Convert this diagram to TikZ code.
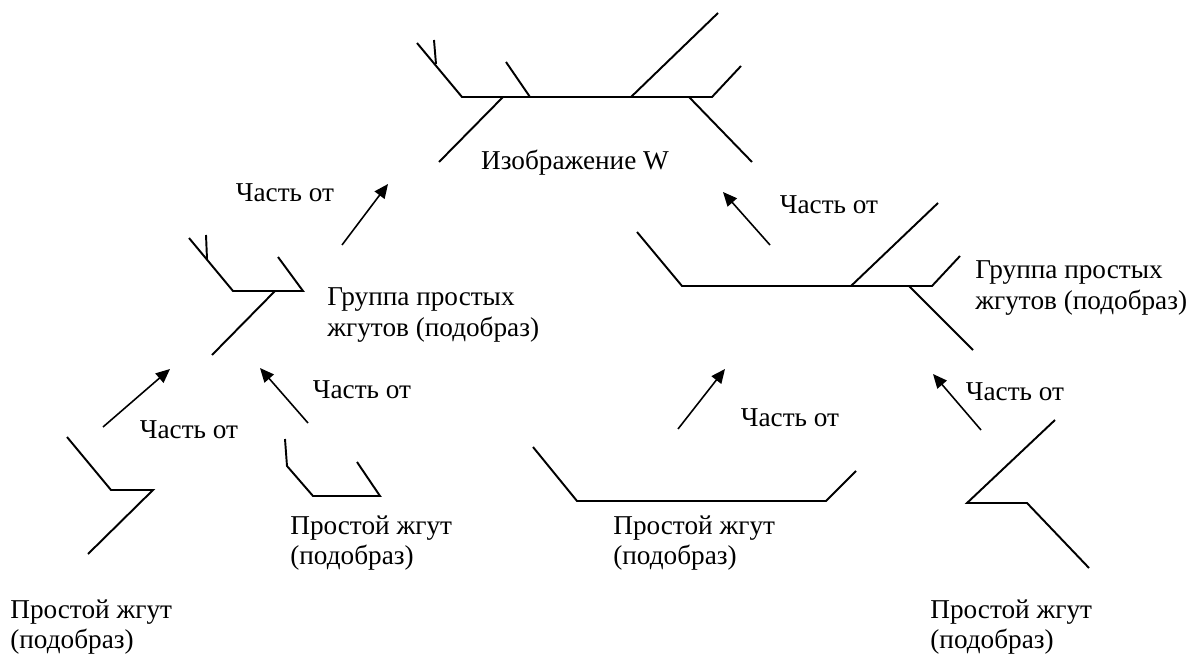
\documentclass[tikz,border=0pt]{standalone}
\usepackage{fontspec}
\setmainfont{Liberation Serif}
\usetikzlibrary{arrows.meta}
\tikzset{
  strand/.style={line width=1.1pt, line join=miter},
  partof/.style={line width=0.9pt, -{Triangle[length=8pt,width=7pt]}},
  caption/.style={font=\fontsize{15.5}{17.5}\selectfont, inner sep=0pt, align=left},
}

\begin{document}
\begin{tikzpicture}[x=0.02cm, y=-0.02cm]
  \useasboundingbox (0,0) rectangle (1197,655);

  % image W
  \draw[strand] (417,43) -- (462,97) -- (712,97) -- (741,66);
  \draw[strand] (436,64) -- (434,40);
  \draw[strand] (503,97) -- (439,162);
  \draw[strand] (530,97) -- (506,62);
  \draw[strand] (631,97) -- (718,13);
  \draw[strand] (689,97) -- (752,162);
  \node[caption, anchor=center] (imgW) at (575,163) {Изображение W};

  % left group
  \draw[strand] (189,238) -- (233,291) -- (303,291) -- (278,257);
  \draw[strand] (207,259) -- (206,235);
  \draw[strand] (275,291) -- (212,355);
  \node[caption, anchor=west] (groupL) at (327,315) {Группа простых\\жгутов (подобраз)};

  % right group
  \draw[strand] (637,232) -- (682,286) -- (932,286) -- (960,256);
  \draw[strand] (851,286) -- (938,203);
  \draw[strand] (909,286) -- (973,350);
  \node[caption, anchor=west] (groupR) at (975,288) {Группа простых\\жгутов (подобраз)};

  % simple strands
  \draw[strand] (67,437) -- (111,490) -- (153,490) -- (88,554);
  \node[caption, anchor=west] (simpleA) at (10,627) {Простой жгут\\(подобраз)};
  \draw[strand] (285,439) -- (287,466) -- (313,496) -- (380,496) -- (357,462);
  \node[caption, anchor=west] (simpleB) at (290,543) {Простой жгут\\(подобраз)};
  \draw[strand] (533,447) -- (577,501) -- (826,501) -- (856,471);
  \node[caption, anchor=west] (simpleC) at (613,543) {Простой жгут\\(подобраз)};
  \draw[strand] (1055,420) -- (967,503) -- (1027,503) -- (1089,568);
  \node[caption, anchor=west] (simpleD) at (930,627) {Простой жгут\\(подобраз)};

  % part-of arrows
  \coordinate (upL0) at (342,245);
  \coordinate (upL1) at (388,184);
  \coordinate (upR0) at (770,245);
  \coordinate (upR1) at (723,192);
  \coordinate (inA0) at (103,427);
  \coordinate (inA1) at (170,369);
  \coordinate (inB0) at (308,423);
  \coordinate (inB1) at (260,368);
  \coordinate (inC0) at (678,429);
  \coordinate (inC1) at (725,369);
  \coordinate (inD0) at (981,430);
  \coordinate (inD1) at (933,374);
  \draw[partof] (upL0) -- (upL1);
  \draw[partof] (upR0) -- (upR1);
  \draw[partof] (inA0) -- (inA1);
  \draw[partof] (inB0) -- (inB1);
  \draw[partof] (inC0) -- (inC1);
  \draw[partof] (inD0) -- (inD1);
  \node[caption] (partUpL) at (285,193) {Часть от};
  \node[caption] (partUpR) at (829,205) {Часть от};
  \node[caption] (partA) at (189,430) {Часть от};
  \node[caption] (partB) at (362,390) {Часть от};
  \node[caption] (partC) at (790,418) {Часть от};
  \node[caption] (partD) at (1015,392) {Часть от};
\end{tikzpicture}
\end{document}
